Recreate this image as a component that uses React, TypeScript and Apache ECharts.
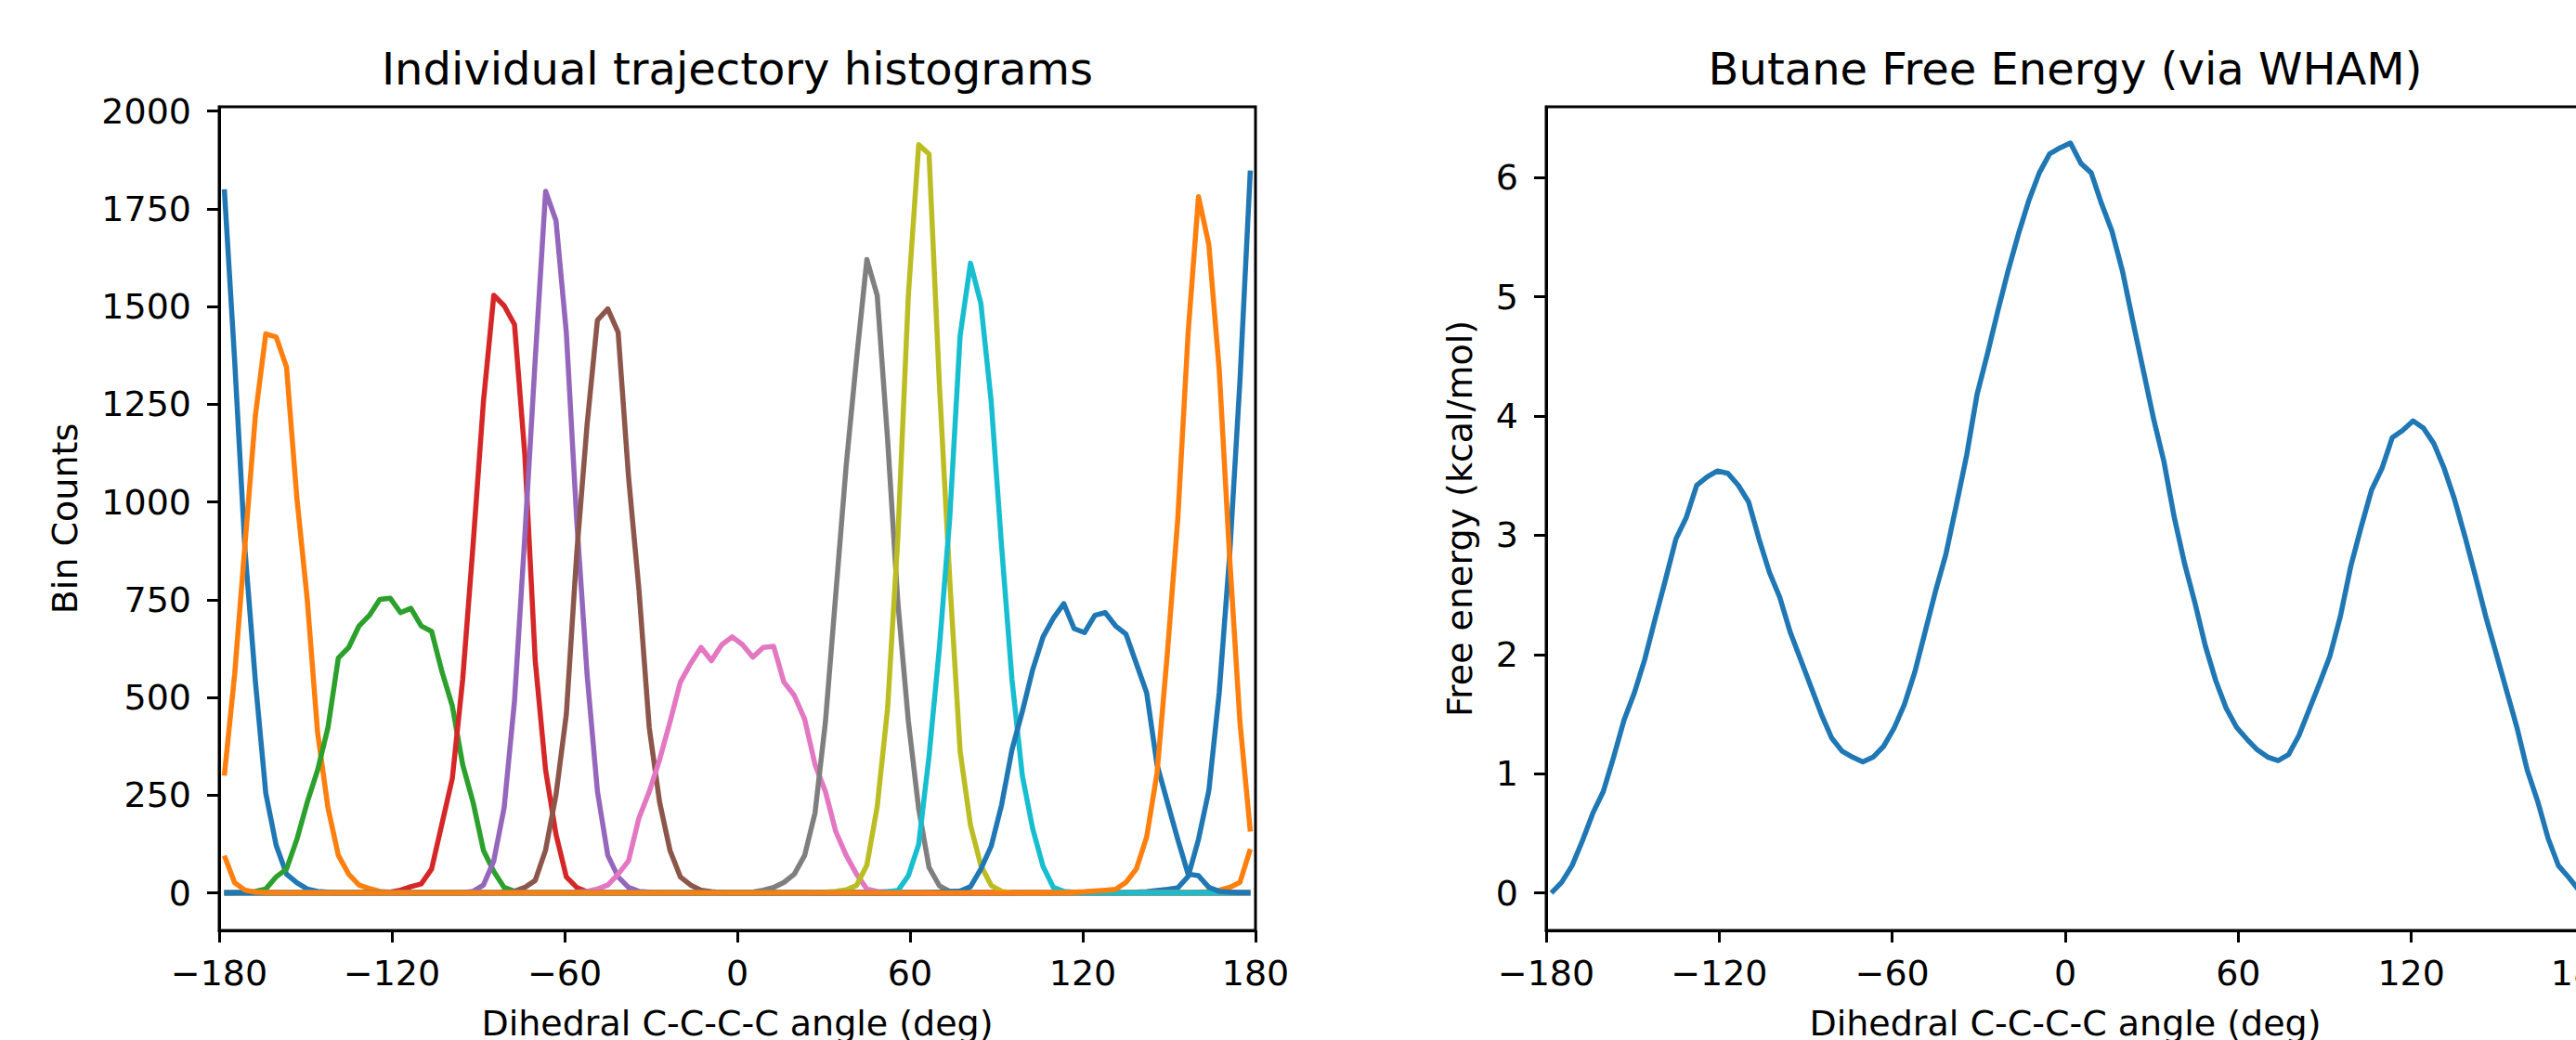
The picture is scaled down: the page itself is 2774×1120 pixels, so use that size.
import React, { useEffect, useRef } from "react";
import * as echarts from "echarts";

// bin centers (deg)
const binCenters = [
  -178.2, -174.6, -171, -167.4, -163.8, -160.2, -156.6, -153, -149.4, -145.8,
  -142.2, -138.6, -135, -131.4, -127.8, -124.2, -120.6, -117, -113.4, -109.8,
  -106.2, -102.6, -99, -95.4, -91.8, -88.2, -84.6, -81, -77.4, -73.8,
  -70.2, -66.6, -63, -59.4, -55.8, -52.2, -48.6, -45, -41.4, -37.8,
  -34.2, -30.6, -27, -23.4, -19.8, -16.2, -12.6, -9, -5.4, -1.8,
  1.8, 5.4, 9, 12.6, 16.2, 19.8, 23.4, 27, 30.6, 34.2,
  37.8, 41.4, 45, 48.6, 52.2, 55.8, 59.4, 63, 66.6, 70.2,
  73.8, 77.4, 81, 84.6, 88.2, 91.8, 95.4, 99, 102.6, 106.2,
  109.8, 113.4, 117, 120.6, 124.2, 127.8, 131.4, 135, 138.6, 142.2,
  145.8, 149.4, 153, 156.6, 160.2, 163.8, 167.4, 171, 174.6, 178.2,
];

const h01 = [
  1800, 1360, 875, 540, 255, 122, 48, 26, 10, 4,
  2, 0, 0, 0, 0, 0, 0, 0, 0, 0,
  0, 0, 0, 0, 0, 0, 0, 0, 0, 0,
  0, 0, 0, 0, 0, 0, 0, 0, 0, 0,
  0, 0, 0, 0, 0, 0, 0, 0, 0, 0,
  0, 0, 0, 0, 0, 0, 0, 0, 0, 0,
  0, 0, 0, 0, 0, 0, 0, 0, 0, 0,
  0, 0, 0, 0, 0, 0, 0, 0, 0, 0,
  0, 0, 0, 0, 0, 0, 0, 0, 2, 3,
  6, 9, 13, 42, 137, 262, 512, 862, 1310, 1848,
];
const h02 = [
  300, 560, 894, 1222, 1430, 1422, 1345, 1010, 751, 410,
  218, 96, 48, 20, 11, 4, 2, 0, 0, 0,
  0, 0, 0, 0, 0, 0, 0, 0, 0, 0,
  0, 0, 0, 0, 0, 0, 0, 0, 0, 0,
  0, 0, 0, 0, 0, 0, 0, 0, 0, 0,
  0, 0, 0, 0, 0, 0, 0, 0, 0, 0,
  0, 0, 0, 0, 0, 0, 0, 0, 0, 0,
  0, 0, 0, 0, 0, 0, 0, 0, 0, 0,
  0, 0, 0, 0, 0, 0, 0, 0, 0, 0,
  0, 0, 0, 0, 2, 3, 7, 14, 27, 112,
];
const h03 = [
  0, 0, 2, 4, 10, 41, 61, 137, 232, 314,
  423, 601, 628, 683, 710, 751, 754, 717, 728, 683,
  669, 566, 478, 328, 232, 109, 55, 14, 4, 1,
  0, 0, 0, 0, 0, 0, 0, 0, 0, 0,
  0, 0, 0, 0, 0, 0, 0, 0, 0, 0,
  0, 0, 0, 0, 0, 0, 0, 0, 0, 0,
  0, 0, 0, 0, 0, 0, 0, 0, 0, 0,
  0, 0, 0, 0, 0, 0, 0, 0, 0, 0,
  0, 0, 0, 0, 0, 0, 0, 0, 0, 0,
  0, 0, 0, 0, 0, 0, 0, 0, 0, 0,
];
const h04 = [
  0, 0, 0, 0, 0, 0, 0, 0, 0, 0,
  0, 0, 0, 0, 1, 1, 2, 7, 16, 23,
  61, 177, 293, 546, 890, 1256, 1529, 1502, 1454, 1119,
  594, 314, 150, 41, 14, 3, 1, 0, 0, 0,
  0, 0, 0, 0, 0, 0, 0, 0, 0, 0,
  0, 0, 0, 0, 0, 0, 0, 0, 0, 0,
  0, 0, 0, 0, 0, 0, 0, 0, 0, 0,
  0, 0, 0, 0, 0, 0, 0, 0, 0, 0,
  0, 0, 0, 0, 0, 0, 0, 0, 0, 0,
  0, 0, 0, 0, 0, 0, 0, 0, 0, 0,
];
const h05 = [
  0, 0, 0, 0, 0, 0, 0, 0, 0, 0,
  0, 0, 0, 0, 0, 0, 0, 0, 0, 0,
  0, 0, 0, 1, 4, 20, 82, 218, 491, 915,
  1365, 1795, 1720, 1433, 955, 560, 260, 96, 41, 14,
  4, 2, 0, 0, 0, 0, 0, 0, 0, 0,
  0, 0, 0, 0, 0, 0, 0, 0, 0, 0,
  0, 0, 0, 0, 0, 0, 0, 0, 0, 0,
  0, 0, 0, 0, 0, 0, 0, 0, 0, 0,
  0, 0, 0, 0, 0, 0, 0, 0, 0, 0,
  0, 0, 0, 0, 0, 0, 0, 0, 0, 0,
];
const h06 = [
  0, 0, 0, 0, 0, 0, 0, 0, 0, 0,
  0, 0, 0, 0, 0, 0, 0, 0, 0, 0,
  0, 0, 0, 0, 0, 0, 0, 2, 4, 14,
  32, 110, 250, 457, 867, 1197, 1465, 1494, 1434, 1065,
  778, 423, 232, 109, 41, 20, 7, 3, 1, 0,
  0, 0, 0, 0, 0, 0, 0, 0, 0, 0,
  0, 0, 0, 0, 0, 0, 0, 0, 0, 0,
  0, 0, 0, 0, 0, 0, 0, 0, 0, 0,
  0, 0, 0, 0, 0, 0, 0, 0, 0, 0,
  0, 0, 0, 0, 0, 0, 0, 0, 0, 0,
];
const h07 = [
  0, 0, 0, 0, 0, 0, 0, 0, 0, 0,
  0, 0, 0, 0, 0, 0, 0, 0, 0, 0,
  0, 0, 0, 0, 0, 0, 0, 0, 0, 0,
  0, 0, 0, 1, 2, 4, 10, 20, 48, 82,
  191, 259, 341, 437, 539, 587, 628, 594, 635, 655,
  635, 603, 628, 631, 539, 505, 444, 328, 259, 157,
  96, 48, 10, 4, 3, 1, 0, 0, 0, 0,
  0, 0, 0, 0, 0, 0, 0, 0, 0, 0,
  0, 0, 0, 0, 0, 0, 0, 0, 0, 0,
  0, 0, 0, 0, 0, 0, 0, 0, 0, 0,
];
const h08 = [
  0, 0, 0, 0, 0, 0, 0, 0, 0, 0,
  0, 0, 0, 0, 0, 0, 0, 0, 0, 0,
  0, 0, 0, 0, 0, 0, 0, 0, 0, 0,
  0, 0, 0, 0, 0, 0, 0, 0, 0, 0,
  0, 0, 0, 0, 0, 0, 0, 0, 0, 0,
  1, 2, 7, 14, 27, 48, 96, 205, 437, 764,
  1092, 1365, 1620, 1528, 1160, 740, 440, 215, 65, 18,
  4, 2, 0, 0, 0, 0, 0, 0, 0, 0,
  0, 0, 0, 0, 0, 0, 0, 0, 0, 0,
  0, 0, 0, 0, 0, 0, 0, 0, 0, 0,
];
const h09 = [
  0, 0, 0, 0, 0, 0, 0, 0, 0, 0,
  0, 0, 0, 0, 0, 0, 0, 0, 0, 0,
  0, 0, 0, 0, 0, 0, 0, 0, 0, 0,
  0, 0, 0, 0, 0, 0, 0, 0, 0, 0,
  0, 0, 0, 0, 0, 0, 0, 0, 0, 0,
  0, 0, 0, 0, 0, 0, 0, 1, 2, 4,
  8, 19, 71, 221, 472, 914, 1528, 1914, 1890, 1300,
  800, 362, 173, 70, 19, 4, 1, 0, 0, 0,
  0, 0, 0, 0, 0, 0, 0, 0, 0, 0,
  0, 0, 0, 0, 0, 0, 0, 0, 0, 0,
];
const h10 = [
  0, 0, 0, 0, 0, 0, 0, 0, 0, 0,
  0, 0, 0, 0, 0, 0, 0, 0, 0, 0,
  0, 0, 0, 0, 0, 0, 0, 0, 0, 0,
  0, 0, 0, 0, 0, 0, 0, 0, 0, 0,
  0, 0, 0, 0, 0, 0, 0, 0, 0, 0,
  0, 0, 0, 0, 0, 0, 0, 0, 0, 0,
  0, 0, 0, 1, 3, 6, 44, 124, 350, 628,
  960, 1426, 1611, 1508, 1256, 887, 546, 300, 164, 68,
  14, 4, 2, 0, 0, 0, 0, 0, 0, 0,
  0, 0, 0, 0, 0, 0, 0, 0, 0, 0,
];
const h11 = [
  0, 0, 0, 0, 0, 0, 0, 0, 0, 0,
  0, 0, 0, 0, 0, 0, 0, 0, 0, 0,
  0, 0, 0, 0, 0, 0, 0, 0, 0, 0,
  0, 0, 0, 0, 0, 0, 0, 0, 0, 0,
  0, 0, 0, 0, 0, 0, 0, 0, 0, 0,
  0, 0, 0, 0, 0, 0, 0, 0, 0, 0,
  0, 0, 0, 0, 0, 0, 0, 0, 1, 2,
  4, 5, 16, 61, 120, 225, 366, 464, 571, 655,
  703, 740, 676, 666, 710, 717, 683, 662, 587, 512,
  328, 232, 137, 48, 44, 14, 4, 2, 1, 1,
];
const h12 = [
  95, 26, 7, 2, 1, 0, 0, 0, 0, 0,
  0, 0, 0, 0, 0, 0, 0, 0, 0, 0,
  0, 0, 0, 0, 0, 0, 0, 0, 0, 0,
  0, 0, 0, 0, 0, 0, 0, 0, 0, 0,
  0, 0, 0, 0, 0, 0, 0, 0, 0, 0,
  0, 0, 0, 0, 0, 0, 0, 0, 0, 0,
  0, 0, 0, 0, 0, 0, 0, 0, 0, 0,
  0, 0, 0, 0, 0, 0, 0, 0, 0, 0,
  1, 1, 2, 3, 5, 7, 9, 27, 61, 143,
  307, 614, 956, 1433, 1781, 1658, 1338, 860, 437, 157,
];

const histograms = [h01, h02, h03, h04, h05, h06, h07, h08, h09, h10, h11, h12];

const freeEnergy = [
  0.0, 0.09, 0.23, 0.44, 0.67, 0.85, 1.14, 1.45, 1.68, 1.96,
  2.3, 2.63, 2.97, 3.15, 3.42, 3.49, 3.54, 3.52, 3.42, 3.28,
  2.97, 2.69, 2.48, 2.19, 1.96, 1.73, 1.5, 1.3, 1.19, 1.14,
  1.1, 1.14, 1.23, 1.38, 1.58, 1.85, 2.19, 2.53, 2.84, 3.25,
  3.67, 4.18, 4.52, 4.88, 5.22, 5.53, 5.81, 6.04, 6.2, 6.25,
  6.29, 6.12, 6.04, 5.78, 5.55, 5.22, 4.8, 4.39, 3.98, 3.62,
  3.15, 2.76, 2.43, 2.07, 1.78, 1.55, 1.39, 1.29, 1.2, 1.14,
  1.11, 1.16, 1.32, 1.54, 1.76, 1.99, 2.32, 2.74, 3.07, 3.38,
  3.56, 3.82, 3.88, 3.96, 3.9, 3.77, 3.56, 3.3, 2.99, 2.66,
  2.32, 2.01, 1.7, 1.39, 1.03, 0.77, 0.46, 0.23, 0.13, 0.02,
];

const countTicks = [0, 250, 500, 750, 1000, 1250, 1500, 1750, 2000];
const energyTicks = [0, 1, 2, 3, 4, 5, 6];

const palette = [
  "#1f77b4", "#ff7f0e", "#2ca02c", "#d62728", "#9467bd", "#8c564b",
  "#e377c2", "#7f7f7f", "#bcbd22", "#17becf", "#1f77b4", "#ff7f0e",
];

const FONT = "DejaVu Sans";
const LW = 5.5;

const fmtAngle = (v: number) => (v < 0 ? "\u2212" + Math.abs(v) : String(v));
const fmtPlain = (v: number) => String(v);

export default function App() {
  const ref = useRef<HTMLDivElement>(null);
  useEffect(() => {
    document.body.style.margin = "0";
    if (!ref.current) return;
    const chart = echarts.init(ref.current, undefined, { renderer: "svg" });

    const axisCommon = {
      axisLine: { show: true, onZero: false, lineStyle: { color: "#000", width: 3 } },
      axisTick: { show: true, inside: false, length: 13, lineStyle: { color: "#000", width: 3 } },
      splitLine: { show: false },
      nameTextStyle: { fontFamily: FONT, fontSize: 38, color: "#000" },
    };
    const xLabel = { fontFamily: FONT, fontSize: 38, color: "#000", margin: 27, formatter: fmtAngle, showMinLabel: true, showMaxLabel: true };

    const series: any[] = histograms.map((h, i) => ({
      type: "line",
      xAxisIndex: 0,
      yAxisIndex: 0,
      showSymbol: false,
      symbol: "none",
      data: binCenters.map((x, k) => [x, h[k]]),
      lineStyle: { color: palette[i], width: LW, join: "round" },
      itemStyle: { color: palette[i] },
      z: 2,
    }));
    series.push({
      type: "line",
      xAxisIndex: 1,
      yAxisIndex: 1,
      showSymbol: false,
      symbol: "none",
      data: binCenters.map((x, k) => [x, freeEnergy[k]]),
      lineStyle: { color: "#1f77b4", width: LW, join: "round" },
      itemStyle: { color: "#1f77b4" },
      z: 2,
    });

    const gridCommon = {
      show: true,
      borderColor: "#000",
      borderWidth: 3,
      backgroundColor: "transparent",
      containLabel: false,
      outerBoundsMode: "none",
    };

    chart.setOption({
      animation: false,
      backgroundColor: "#fff",
      grid: [
        { ...gridCommon, left: 236, top: 115, width: 1116, height: 887 },
        { ...gridCommon, left: 1665, top: 115, width: 1118, height: 887 },
      ],
      xAxis: [
        {
          ...axisCommon,
          type: "value",
          gridIndex: 0,
          min: -180,
          max: 180,
          interval: 60,
          axisLabel: xLabel,
          name: "Dihedral C-C-C-C angle (deg)",
          nameLocation: "middle",
          nameGap: 81,
        },
        {
          ...axisCommon,
          type: "value",
          gridIndex: 1,
          min: -180,
          max: 180,
          interval: 60,
          axisLabel: xLabel,
          name: "Dihedral C-C-C-C angle (deg)",
          nameLocation: "middle",
          nameGap: 81,
        },
      ],
      yAxis: [
        {
          ...axisCommon,
          type: "value",
          gridIndex: 0,
          min: -96,
          max: 2011,
          axisTick: { ...axisCommon.axisTick, customValues: countTicks },
          axisLabel: { fontFamily: FONT, fontSize: 38, color: "#000", margin: 30, customValues: countTicks, formatter: fmtPlain },
          name: "Bin Counts",
          nameLocation: "middle",
          nameGap: 147,
        },
        {
          ...axisCommon,
          type: "value",
          gridIndex: 1,
          min: -0.314,
          max: 6.594,
          axisTick: { ...axisCommon.axisTick, customValues: energyTicks },
          axisLabel: { fontFamily: FONT, fontSize: 38, color: "#000", margin: 30, customValues: energyTicks, formatter: fmtPlain },
          name: "Free energy (kcal/mol)",
          nameLocation: "middle",
          nameGap: 74,
        },
      ],
      graphic: [
        {
          type: "text",
          x: 794,
          y: 74,
          style: {
            text: "Individual trajectory histograms",
            fontFamily: FONT,
            fontSize: 48,
            fill: "#000",
            align: "center",
            verticalAlign: "middle",
            textAlign: "center",
            textVerticalAlign: "middle",
          },
        },
        {
          type: "text",
          x: 2224,
          y: 74,
          style: {
            text: "Butane Free Energy (via WHAM)",
            fontFamily: FONT,
            fontSize: 48,
            fill: "#000",
            align: "center",
            verticalAlign: "middle",
            textAlign: "center",
            textVerticalAlign: "middle",
          },
        },
      ],
      series,
    });
    return () => chart.dispose();
  }, []);
  return <div ref={ref} style={{ width: 2774, height: 1120 }} />;
}
